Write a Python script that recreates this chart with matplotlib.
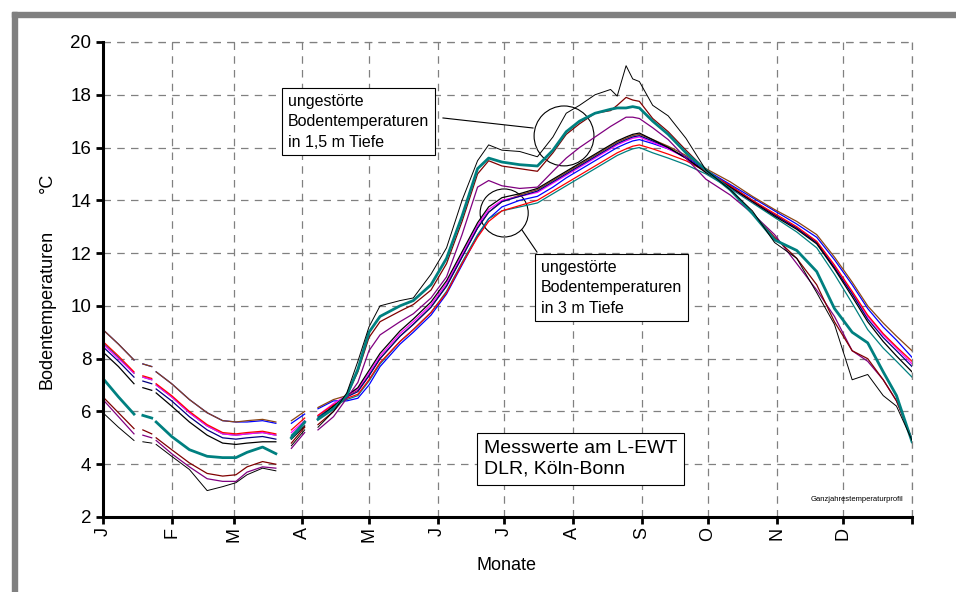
import numpy as np
import matplotlib
matplotlib.use("Agg")
import matplotlib.pyplot as plt
from matplotlib.patches import Ellipse, Rectangle

plt.rcParams['font.family'] = ['Liberation Sans', 'DejaVu Sans']

nan = np.nan

# day of year of each reading (gaps = missing data)
days = [0, 7, 14, 16, 18, 22, 23, 24, 31, 39, 47, 54, 60, 65, 72, 78, 81, 85, 91, 94,
        97, 104, 110, 115, 120, 125, 134, 140, 148, 155, 162, 169, 174, 180, 188, 196,
        203, 209, 215, 222, 229, 232, 236, 239, 242, 248, 255, 263, 272, 283, 293, 303,
        313, 322, 330, 338, 345, 352, 358, 365]

month_ticks = [0, 31, 59, 90, 120, 151, 181, 212, 243, 273, 304, 334, 365]
month_labels = ["J", "F", "M", "A", "M", "J", "J", "A", "S", "O", "N", "D", ""]

# 1,5 m depth
teal_15 = [7.25, 6.55, 5.9, nan, 5.85, 5.75, nan, 5.6, 5.05, 4.55, 4.3, 4.25, 4.25, 4.45, 4.65, 4.4, nan, 5.0, 5.6, nan,
           5.7, 6.1, 6.6, 7.6, 9.0, 9.6, 10.0, 10.2, 10.8, 11.8, 13.4, 15.2, 15.6, 15.45, 15.35, 15.3,
           15.9, 16.6, 17.0, 17.3, 17.45, 17.5, 17.5, 17.55, 17.5, 17.0, 16.5, 15.8, 15.15, 14.4, 13.5, 12.5,
           12.1, 11.3, 9.9, 9.0, 8.6, 7.5, 6.6, 4.85]
darkred_15 = [6.55, 5.95, 5.35, nan, 5.3, 5.15, nan, 5.0, 4.55, 4.05, 3.65, 3.55, 3.6, 3.9, 4.1, 4.0, nan, 4.8, 5.4, nan,
              5.5, 6.0, 6.6, 7.5, 8.8, 9.4, 9.8, 10.05, 10.6, 11.6, 13.2, 15.0, 15.5, 15.3, 15.2, 15.1,
              15.8, 16.5, 16.9, 17.3, 17.4, 17.6, 17.9, 17.8, 17.75, 17.1, 16.6, 15.9, 15.15, 14.4, 13.5, 12.6,
              11.8, 10.8, 9.4, 8.3, 8.0, 7.2, 6.4, 4.95]
purple_15 = [6.45, 5.8, 5.15, nan, 5.1, 5.0, nan, 4.9, 4.4, 3.9, 3.45, 3.35, 3.35, 3.7, 3.9, 3.85, nan, 4.6, 5.2, nan,
             5.3, 5.8, 6.5, 7.1, 8.3, 8.9, 9.4, 9.7, 10.3, 11.1, 12.7, 14.5, 14.75, 14.55, 14.45, 14.5,
             15.1, 15.6, 16.0, 16.4, 16.8, 16.95, 17.15, 17.15, 17.1, 16.75, 16.3, 15.6, 14.8, 14.2, 13.5, 12.7,
             11.6, 10.6, 9.6, 8.3, 7.9, 7.2, 6.4, 4.95]
black_15 = [5.95, 5.4, 4.9, nan, 4.85, 4.8, nan, 4.75, 4.3, 3.8, 3.0, 3.15, 3.3, 3.6, 3.85, 3.75, nan, 4.7, 5.3, nan,
            5.4, 6.0, 6.7, 7.9, 9.2, 10.0, 10.2, 10.3, 11.2, 12.2, 14.0, 15.5, 16.1, 15.9, 15.85, 15.65,
            16.4, 17.3, 17.6, 18.0, 18.2, 17.95, 19.1, 18.6, 18.5, 17.6, 17.2, 16.35, 15.15, 14.4, 13.6, 12.4,
            11.8, 10.5, 9.3, 7.2, 7.4, 6.6, 6.2, 4.9]

# 3 m depth
blue_3 = [9.1, 8.55, 7.95, nan, 7.8, 7.7, nan, 7.5, 7.05, 6.45, 5.95, 5.65, 5.6, 5.6, 5.65, 5.55, nan, 5.55, 5.9, nan,
          6.1, 6.4, 6.4, 6.5, 7.0, 7.7, 8.55, 9.0, 9.65, 10.45, 11.55, 12.65, 13.3, 13.75, 14.0, 14.15,
          14.5, 14.85, 15.15, 15.5, 15.85, 16.0, 16.15, 16.25, 16.3, 16.15, 15.95, 15.65, 15.15, 14.6, 14.1, 13.6,
          13.1, 12.6, 11.75, 10.8, 9.9, 9.2, 8.7, 8.05]
brown_3 = [9.1, 8.55, 7.95, nan, 7.8, 7.7, nan, 7.5, 7.05, 6.45, 5.95, 5.65, 5.6, 5.65, 5.7, 5.6, nan, 5.65, 6.0, nan,
           6.15, 6.45, 6.6, 6.8, 7.35, 8.0, 8.85, 9.3, 9.95, 10.75, 11.85, 12.95, 13.55, 13.95, 14.2, 14.4,
           14.75, 15.05, 15.35, 15.7, 16.05, 16.2, 16.35, 16.45, 16.5, 16.3, 16.05, 15.7, 15.2, 14.7, 14.15, 13.65,
           13.2, 12.7, 11.85, 10.9, 10.0, 9.35, 8.85, 8.3]
red_3 = [8.65, 8.1, 7.5, nan, 7.35, 7.25, nan, 7.05, 6.6, 6.0, 5.5, 5.2, 5.15, 5.2, 5.25, 5.15, nan, 5.3, 5.75, nan,
         5.85, 6.25, 6.5, 6.65, 7.2, 7.85, 8.65, 9.1, 9.75, 10.5, 11.6, 12.6, 13.2, 13.6, 13.8, 14.0,
         14.35, 14.65, 14.95, 15.3, 15.65, 15.8, 15.95, 16.05, 16.1, 15.95, 15.75, 15.5, 15.1, 14.55, 14.0, 13.5,
         13.0, 12.45, 11.55, 10.55, 9.65, 8.95, 8.45, 7.9]
teal_3 = [8.6, 8.05, 7.45, nan, 7.3, 7.2, nan, 7.0, 6.55, 5.95, 5.45, 5.15, 5.1, 5.15, 5.2, 5.1, nan, 5.1, 5.6, nan,
          5.8, 6.2, 6.45, 6.6, 7.15, 7.8, 8.65, 9.1, 9.75, 10.55, 11.65, 12.7, 13.3, 13.6, 13.75, 13.9,
          14.25, 14.55, 14.85, 15.2, 15.55, 15.7, 15.85, 15.95, 16.0, 15.8, 15.6, 15.35, 15.0, 14.45, 13.9, 13.35,
          12.8, 12.2, 11.2, 10.1, 9.1, 8.4, 7.9, 7.3]
magenta_3 = [8.55, 8.0, 7.45, nan, 7.3, 7.2, nan, 7.0, 6.55, 5.95, 5.45, 5.15, 5.1, 5.15, 5.2, 5.1, nan, 5.2, 5.65, nan,
             5.85, 6.3, 6.6, 6.85, 7.45, 8.1, 8.95, 9.4, 10.05, 10.85, 11.95, 13.05, 13.65, 14.0, 14.15, 14.3,
             14.65, 14.95, 15.25, 15.6, 15.95, 16.1, 16.25, 16.35, 16.4, 16.2, 15.95, 15.6, 15.1, 14.5, 13.95, 13.45,
             12.95, 12.4, 11.5, 10.5, 9.6, 8.9, 8.4, 7.8]
navy_3 = [8.45, 7.9, 7.3, nan, 7.15, 7.05, nan, 6.85, 6.4, 5.8, 5.3, 5.0, 4.95, 5.0, 5.05, 4.95, nan, 5.05, 5.55, nan,
          5.75, 6.2, 6.55, 6.75, 7.35, 8.0, 8.85, 9.3, 9.95, 10.75, 11.85, 12.95, 13.55, 13.95, 14.15, 14.35,
          14.7, 15.0, 15.3, 15.65, 16.0, 16.15, 16.3, 16.4, 16.45, 16.25, 16.0, 15.6, 15.1, 14.55, 14.0, 13.45,
          12.95, 12.4, 11.45, 10.45, 9.5, 8.8, 8.3, 7.7]
black_3 = [8.25, 7.7, 7.05, nan, 6.9, 6.8, nan, 6.7, 6.2, 5.6, 5.1, 4.8, 4.75, 4.8, 4.85, 4.85, nan, 4.95, 5.45, nan,
           5.7, 6.2, 6.6, 6.9, 7.55, 8.2, 9.05, 9.5, 10.15, 10.95, 12.05, 13.15, 13.75, 14.1, 14.25, 14.45,
           14.8, 15.1, 15.4, 15.75, 16.1, 16.25, 16.4, 16.5, 16.55, 16.3, 16.0, 15.6, 15.05, 14.5, 13.95, 13.4,
           12.9, 12.35, 11.4, 10.35, 9.4, 8.65, 8.1, 7.5]

series = [
    (blue_3, "#0000ff", 0.9),
    (brown_3, "#8b4513", 0.9),
    (teal_3, "#008080", 0.9),
    (magenta_3, "#ff00ff", 0.9),
    (navy_3, "#000080", 0.9),
    (red_3, "#ff0000", 0.9),
    (black_3, "#000000", 0.9),
    (purple_15, "#800080", 0.9),
    (darkred_15, "#800000", 0.9),
    (teal_15, "#008080", 2.0),
    (black_15, "#000000", 0.7),
]

fig = plt.figure(figsize=(9.56, 5.92), dpi=100)
ax = fig.add_axes([0.1077, 0.1267, 0.8463, 0.8024])

for vals, col, lw in series:
    ax.plot(days, vals, color=col, lw=lw)

ax.set_xlim(0, 365)
ax.set_ylim(2, 20)
ax.set_yticks(range(2, 21, 2))
ax.set_xticks(month_ticks)
ax.set_xticklabels(month_labels, rotation=90, fontsize=13)
ax.tick_params(axis='y', labelsize=13.5, width=2, length=5, direction='out')
ax.tick_params(axis='x', width=2, length=5, direction='out', pad=2)
ax.grid(True, color="#808080", ls=(0, (6, 5)), lw=0.9)
for s in ["top", "right"]:
    ax.spines[s].set_visible(False)
for s in ["left", "bottom"]:
    ax.spines[s].set_linewidth(2.2)
ax.axhline(20, color="#808080", ls=(0, (6, 5)), lw=0.9, clip_on=False)
ax.axvline(365, color="#808080", ls=(0, (6, 5)), lw=0.9, clip_on=False)

# annotations
ax.add_patch(Ellipse((208, 16.44), 27, 2.27, fill=False, ec="black", lw=0.8))
ax.add_patch(Ellipse((181, 13.52), 21.7, 1.82, fill=False, ec="black", lw=0.8))
ax.plot([153.4, 194], [17.12, 16.74], color="black", lw=0.8)
ax.plot([189, 195.8], [12.88, 12.04], color="black", lw=0.8)

box = dict(boxstyle="square,pad=0.35", fc="white", ec="black", lw=0.8)
ax.text(83.5, 16.97, "ungestörte\nBodentemperaturen\nin 1,5 m Tiefe", fontsize=11.5,
        ha="left", va="center", linespacing=1.45, bbox=box)
ax.text(197.5, 10.68, "ungestörte\nBodentemperaturen\nin 3 m Tiefe", fontsize=11.5,
        ha="left", va="center", linespacing=1.45, bbox=box)
ax.text(172, 4.2, "Messwerte am L-EWT\nDLR, Köln-Bonn", fontsize=14,
        ha="left", va="center", linespacing=1.3, bbox=box)
ax.text(361, 2.65, "Ganzjahrestemperaturprofil", fontsize=5.5, ha="right", va="center")

fig.text(507 / 956, 1 - 565 / 592, "Monate", fontsize=13, ha="center", va="center")
fig.text(47 / 956, 1 - 309 / 592, "Bodentemperaturen", fontsize=13, rotation=90, ha="center", va="center")
fig.text(47 / 956, 1 - 183 / 592, "°C", fontsize=13, rotation=90, ha="center", va="center")

# gray frame
fig.patches.append(Rectangle((12 / 956, 1 - 17 / 592), 1, 5 / 592, transform=fig.transFigure,
                             color="#808080", zorder=0))
fig.patches.append(Rectangle((12 / 956, 0), 5 / 956, 1 - 12 / 592, transform=fig.transFigure,
                             color="#808080", zorder=0))

fig.savefig("out.png", dpi=100)
